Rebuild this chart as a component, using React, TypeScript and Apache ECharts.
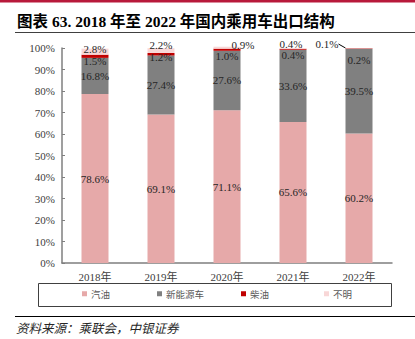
import React, { useEffect, useRef } from "react";
import * as echarts from "echarts";

const categories = ["2018年", "2019年", "2020年", "2021年", "2022年"];
const gasoline = [78.6, 69.1, 71.1, 65.6, 60.2];
const nev = [16.8, 27.4, 27.6, 33.6, 39.5];
const diesel = [1.5, 1.2, 1.0, 0.4, 0.2];
const unknown = [2.8, 2.2, 0.9, 0.4, 0.1];
const seriesNames = ["汽油", "新能源车", "柴油", "不明"];
const colors = ["#E6A9A9", "#808080", "#C00000", "#F8D7D7"];

const SERIF = "'Liberation Serif', 'Times New Roman', 'Noto Sans CJK SC', serif";

// label nudges (style only)
const unknownShift = [
  [0, 6],
  [0, 2],
  [16, 4],
  [-2, 1.5],
  [-32, 1.5],
];
const dieselShift = [-2, -4, 0, 0, 6];

export default function App() {
  const ref = useRef<HTMLDivElement>(null);
  useEffect(() => {
    if (!ref.current) return;
    const chart = echarts.init(ref.current, null, { renderer: "svg" });
    const labelBase = {
      show: true,
      fontFamily: SERIF,
      fontSize: 11,
      color: "#262626",
      formatter: (p: any) => p.value.toFixed(1) + "%",
    };
    const legendLefts = [82, 157, 241, 324];
    chart.setOption({
      animation: false,
      grid: { left: 62, right: 23, top: 48, bottom: 76 },
      xAxis: {
        type: "category",
        data: categories,
        axisLine: { show: true, lineStyle: { color: "#7f7f7f", width: 1.5 } },
        axisTick: { show: false },
        axisLabel: { fontFamily: SERIF, fontSize: 11, color: "#404040", margin: 8 },
      },
      yAxis: {
        type: "value",
        min: 0,
        max: 100,
        interval: 10,
        axisLine: { show: true, lineStyle: { color: "#7f7f7f", width: 1.5 } },
        axisTick: { show: true, inside: true, length: 3, lineStyle: { color: "#7f7f7f" } },
        splitLine: { show: false },
        axisLabel: {
          formatter: "{value}%",
          fontFamily: SERIF,
          fontSize: 11,
          color: "#404040",
          margin: 7,
        },
      },
      legend: seriesNames.map((n, i) => ({
        data: [n],
        left: legendLefts[i],
        top: 289,
        padding: 0,
        icon: "rect",
        itemWidth: 5,
        itemHeight: 5,
        itemGap: 4,
        textStyle: { fontSize: 9.5, color: "#595959", fontFamily: "'Noto Sans CJK SC', sans-serif", padding: [0, 0, 0, -1] },
        selectedMode: false,
      })),
      series: [
        {
          name: seriesNames[0],
          type: "bar",
          stack: "a",
          barWidth: 27,
          clip: false,
          data: gasoline,
          itemStyle: { color: colors[0] },
          label: { ...labelBase, position: "inside" },
        },
        {
          name: seriesNames[1],
          type: "bar",
          stack: "a",
          barWidth: 27,
          clip: false,
          data: nev,
          itemStyle: { color: colors[1] },
          label: { ...labelBase, position: "inside" },
        },
        {
          name: seriesNames[2],
          type: "bar",
          stack: "a",
          barWidth: 27,
          clip: false,
          data: diesel,
          itemStyle: { color: colors[2] },
          label: { ...labelBase, position: "bottom", distance: 0 },
          labelLayout: (p: any) => ({ dy: dieselShift[p.dataIndex] }),
        },
        {
          name: seriesNames[3],
          type: "bar",
          stack: "a",
          barWidth: 27,
          clip: false,
          data: unknown.map((v, i) =>
            i === 4 ? { value: v, labelLine: { show: true, lineStyle: { color: "#000", width: 1 } } } : v
          ),
          itemStyle: { color: colors[3] },
          label: { ...labelBase, position: "top", distance: 0 },
          labelLine: { show: false },
          labelLayout: (p: any) => ({ dx: unknownShift[p.dataIndex][0], dy: unknownShift[p.dataIndex][1] }),
        },
      ],
      graphic: [
        { type: "rect", shape: { x: 0, y: 0, width: 415, height: 2.5 }, style: { fill: "#B8193B" } },
        {
          type: "text",
          x: 17,
          y: 21,
          style: {
            text: "图表 63. 2018 年至 2022 年国内乘用车出口结构",
            font: "bold 15.5px " + SERIF,
            fill: "#000",
            textVerticalAlign: "middle",
          },
        },
        { type: "line", shape: { x1: 15, y1: 32.5, x2: 415, y2: 32.5 }, style: { stroke: "#404040", lineWidth: 1 } },
        {
          type: "rect",
          shape: { x: 38.5, y: 283.5, width: 353, height: 23 },
          style: { fill: "none", stroke: "#404040", lineWidth: 1 },
        },
        { type: "line", shape: { x1: 15, y1: 316.5, x2: 415, y2: 316.5 }, style: { stroke: "#000", lineWidth: 1 } },
        {
          type: "text",
          x: 16,
          y: 327,
          style: {
            text: "资料来源：乘联会，中银证券",
            font: "italic 12.5px 'Noto Sans CJK SC', sans-serif",
            fill: "#262626",
            textVerticalAlign: "middle",
          },
        },
      ],
    });
    return () => chart.dispose();
  }, []);
  return (
    <div
      ref={ref}
      style={{ position: "fixed", left: 0, top: 0, width: 415, height: 339, background: "#fff" }}
    />
  );
}
